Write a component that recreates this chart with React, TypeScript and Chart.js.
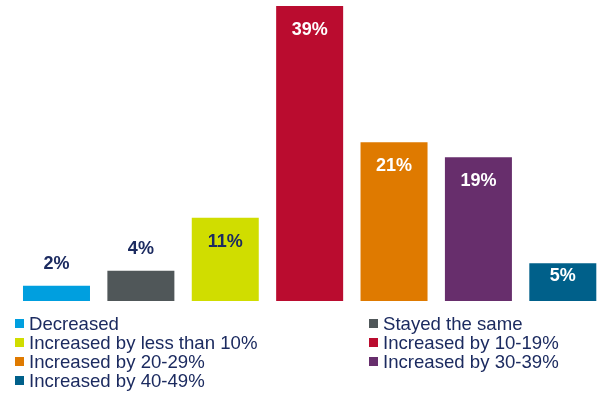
import React, { useEffect, useRef } from "react";
import { Chart, registerables } from "chart.js";

Chart.register(...registerables);

const categories = [
  "Decreased",
  "Stayed the same",
  "Increased by less than 10%",
  "Increased by 10-19%",
  "Increased by 20-29%",
  "Increased by 30-39%",
  "Increased by 40-49%",
];
const values = [2, 4, 11, 39, 21, 19, 5];
const colors = ["#009FDF", "#505759", "#D0DD00", "#BA0C2F", "#DF7A00", "#672E6C", "#00608A"];
const insideLabelColors = ["#ffffff", "#ffffff", "#1c2b60", "#ffffff", "#ffffff", "#ffffff", "#ffffff"];

const NAVY = "#1c2b60";
const FONT = "'Liberation Sans', Arial, sans-serif";

const labelPlugin = {
  id: "barLabels",
  afterDatasetsDraw(chart: any) {
    const ctx = chart.ctx;
    const meta = chart.getDatasetMeta(0);
    ctx.save();
    ctx.font = `bold 18px ${FONT}`;
    ctx.textAlign = "center";
    ctx.textBaseline = "middle";
    meta.data.forEach((bar: any, i: number) => {
      const h = bar.base - bar.y;
      let y: number;
      let color: string;
      if (h < 35) {
        y = bar.y - 22;
        color = NAVY;
      } else if (h < 60) {
        y = bar.y + 13;
        color = insideLabelColors[i];
      } else {
        y = bar.y + 24;
        color = insideLabelColors[i];
      }
      ctx.fillStyle = color;
      ctx.fillText(values[i] + "%", bar.x, y);
    });
    ctx.restore();
  },
};

export default function App() {
  const ref = useRef<HTMLCanvasElement | null>(null);
  useEffect(() => {
    if (!ref.current) return;
    const chart = new Chart(ref.current, {
      type: "bar",
      data: {
        labels: categories,
        datasets: [
          {
            data: values,
            backgroundColor: colors,
            borderWidth: 0,
            barPercentage: 0.794,
            categoryPercentage: 1,
          },
        ],
      },
      options: {
        responsive: false,
        animation: false,
        devicePixelRatio: 1,
        layout: { padding: { left: 14.3, right: 0, top: 6, bottom: 95 } },
        plugins: { legend: { display: false }, tooltip: { enabled: false } },
        scales: {
          x: { display: false, grid: { display: false } },
          y: { display: false, min: 0, max: 39, grid: { display: false } },
        },
      },
      plugins: [labelPlugin],
    });
    return () => chart.destroy();
  }, []);

  return (
    <div
      style={{
        position: "fixed",
        left: 0,
        top: 0,
        width: 597,
        height: 396,
        overflow: "hidden",
        background: "#fff",
      }}
    >
      <canvas ref={ref} width={605} height={396} style={{ display: "block", position: "absolute", left: 0, top: 0 }} />
      {categories.map((c, i) => {
        const col = i % 2;
        const row = Math.floor(i / 2);
        return (
          <div
            key={c}
            style={{
              position: "absolute",
              left: col === 0 ? 15 : 369,
              top: 314 + row * 19,
              height: 19,
              display: "flex",
              alignItems: "center",
              whiteSpace: "nowrap",
              fontFamily: FONT,
              fontSize: 18.6,
              lineHeight: "19px",
              color: NAVY,
            }}
          >
            <span style={{ display: "inline-block", width: 9, height: 9, background: colors[i], marginRight: 5 }} />
            <span>{c}</span>
          </div>
        );
      })}
    </div>
  );
}
